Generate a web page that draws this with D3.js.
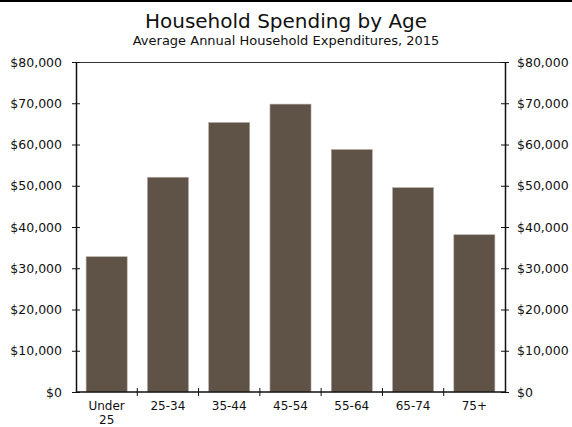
<!DOCTYPE html>
<html><head><meta charset="utf-8">
<script src="https://cdn.jsdelivr.net/npm/d3@7/dist/d3.min.js"></script>
<style>body{margin:0;background:#fff}svg{display:block;font-family:"DejaVu Sans",Verdana,sans-serif}</style>
</head><body>
<script>
const categories = ["Under 25","25-34","35-44","45-54","55-64","65-74","75+"];
const values = [32797,52062,65334,69790,58784,49541,38123];
const yTicks = [0,10000,20000,30000,40000,50000,60000,70000,80000];
const title = "Household Spending by Age";
const subtitle = "Average Annual Household Expenditures, 2015";

const W=572,H=427, m={l:76,r:67,t:62,b:35};
const svg=d3.select("body").append("svg").attr("width",W).attr("height",H);
svg.append("rect").attr("x",0).attr("y",0).attr("width",W).attr("height",2).attr("fill","#000");
svg.append("text").attr("x",286).attr("y",28).attr("text-anchor","middle").attr("font-size",20).attr("fill","#111").text(title);
svg.append("text").attr("x",286).attr("y",45).attr("text-anchor","middle").attr("font-size",13).attr("fill","#111").text(subtitle);

const x=d3.scaleBand().domain(categories).range([m.l,W-m.r]).paddingInner(0.33).paddingOuter(0.165);
const y=d3.scaleLinear().domain([0,80000]).range([H-m.b,m.t]);
const fmt=d=>"$"+d3.format(",")(d);

svg.append("g").selectAll("rect").data(values).join("rect")
 .attr("x",(d,i)=>x(categories[i])).attr("width",x.bandwidth())
 .attr("y",d=>y(d)).attr("height",d=>y(0)-y(d))
 .attr("fill","#5e5346").attr("stroke","#b5aca3").attr("stroke-width",0.6);

// top border
svg.append("line").attr("x1",m.l).attr("x2",W-m.r).attr("y1",m.t+0.5).attr("y2",m.t+0.5).attr("stroke","#333");

const yl=d3.axisLeft(y).tickValues(yTicks).tickFormat(fmt).tickSize(0).tickPadding(14);
const gl=svg.append("g").attr("transform",`translate(${m.l},0)`).call(yl);
const yr=d3.axisRight(y).tickValues(yTicks).tickFormat(fmt).tickSize(0).tickPadding(12);
const gr=svg.append("g").attr("transform",`translate(${W-m.r},0)`).call(yr);
[gl,gr].forEach(g=>{
  g.select(".domain").attr("stroke","#111").attr("stroke-width",1.5);
  g.selectAll(".tick").append("line").attr("x1",-4).attr("x2",4).attr("stroke","#111");
  g.selectAll("text").attr("font-size",12.5).attr("fill","#111").attr("font-family","DejaVu Sans");
});
// x axis
const gx=svg.append("g").attr("transform",`translate(0,${y(0)})`);
gx.append("line").attr("x1",m.l).attr("x2",W-m.r).attr("stroke","#111").attr("stroke-width",1.5);
gx.selectAll(".xt").data(categories.slice(1)).join("line")
 .attr("x1",d=>x(d)-x.step()*0.165).attr("x2",d=>x(d)-x.step()*0.165).attr("y1",-4).attr("y2",4).attr("stroke","#111");
gx.selectAll(".xl").data(categories).join("text")
 .attr("text-anchor","middle").attr("font-size",12).attr("fill","#111")
 .each(function(d){
   const t=d3.select(this), cx=x(d)+x.bandwidth()/2;
   const words=d==="Under 25"?["Under","25"]:[d];
   words.forEach((w,i)=>t.append("tspan").attr("x",cx).attr("y",18+i*14).text(w));
 });
</script>
</body></html>
